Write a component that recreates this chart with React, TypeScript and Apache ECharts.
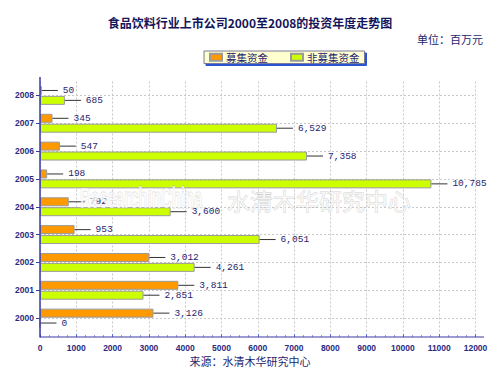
import React, { useEffect, useRef } from "react";
import * as echarts from "echarts";

const years = ["2000", "2001", "2002", "2003", "2004", "2005", "2006", "2007", "2008"];
const raisedFunds = [3126, 3811, 3012, 953, 792, 198, 547, 345, 50];
const nonRaisedFunds = [0, 2851, 4261, 6051, 3600, 10785, 7358, 6529, 685];
const seriesNames = ["募集资金", "非募集资金"];
const titleText = "食品饮料行业上市公司2000至2008的投资年度走势图";
const unitText = "单位：百万元";
const sourceText = "来源：水清木华研究中心";

const NAVY = "#1e1e70";
const CJK = '"Noto Sans CJK SC", sans-serif';

function fmt(v: number) {
  return v.toLocaleString("en-US");
}

export default function App() {
  const ref = useRef<HTMLDivElement>(null);
  useEffect(() => {
    if (!ref.current) return;
    const chart = echarts.init(ref.current, undefined, { renderer: "svg" });
    const labelCfg = {
      show: true,
      position: "right",
      distance: 0,
      formatter: (p: any) => `{l|}{v|${fmt(p.value)}}`,
      rich: {
        l: { width: 16, height: 1, backgroundColor: "#333" },
        v: {
          padding: [0, 0, 0, 5],
          fontFamily: '"Liberation Mono", monospace',
          fontSize: 9.5,
          color: NAVY,
        },
      },
    };
    const axisLabelStyle = {
      fontSize: 8.5,
      fontFamily: '"Liberation Sans", sans-serif',
      fontWeight: "bold",
      color: "#2a2a80",
    };
    chart.setOption({
      animation: false,
      backgroundColor: "#ffffff",
      title: {
        text: titleText,
        left: "center",
        top: 11,
        textStyle: { fontSize: 12, fontWeight: "bold", color: "#14145a", fontFamily: CJK },
      },
      legend: {
        data: seriesNames,
        left: 204,
        top: 51,
        orient: "horizontal",
        icon: "rect",
        itemWidth: 12,
        itemHeight: 7,
        itemGap: 22,
        padding: [1, 5, 1, 5],
        backgroundColor: "#ffffd0",
        borderColor: "#7a7a9a",
        borderWidth: 1,
        shadowColor: "#2a55d0",
        shadowOffsetX: 2,
        shadowOffsetY: 2,
        shadowBlur: 0,
        textStyle: { fontSize: 10.5, color: NAVY, fontFamily: CJK, padding: [0, 0, 0, -1] },
      },
      grid: { left: 40, width: 435.5, top: 81.5, height: 250.5, containLabel: false },
      xAxis: {
        type: "value",
        min: 0,
        max: 12000,
        interval: 1000,
        offset: 5,
        axisLine: { show: false },
        axisTick: { show: true, inside: true, length: 3, lineStyle: { color: "#5a6ad0" } },
        minorTick: { show: true, splitNumber: 4, length: 2, lineStyle: { color: "#8fa0e0" } },
        axisLabel: { ...axisLabelStyle, margin: 6, formatter: (v: number) => String(v) },
        splitLine: { show: true, lineStyle: { color: "#c8c8c8", type: [2, 2] } },
      },
      yAxis: {
        type: "category",
        data: years,
        axisLine: { show: false },
        axisTick: { show: true, alignWithLabel: true, length: 4, lineStyle: { color: "#3a3aa0" } },
        axisLabel: { ...axisLabelStyle, margin: 6 },
        splitLine: { show: true, alignWithLabel: true, lineStyle: { color: "#c8c8c8", type: [2, 2] } },
      },
      series: [
        {
          name: seriesNames[0],
          type: "bar",
          data: raisedFunds,
          barWidth: 9,
          barGap: "10%",
          itemStyle: { color: "#ff9900", borderColor: "#9a9a9a", borderWidth: 1 },
          label: labelCfg,
        },
        {
          name: seriesNames[1],
          type: "bar",
          data: nonRaisedFunds,
          barWidth: 9,
          barGap: "10%",
          itemStyle: { color: "#ccff00", borderColor: "#9a9a9a", borderWidth: 1 },
          label: labelCfg,
        },
      ],
      graphic: [
        {
          type: "line",
          shape: { x1: 40, y1: 77, x2: 40, y2: 337.5 },
          style: { stroke: "#3a3aa8", lineWidth: 1.5 },
          z: 10,
        },
        {
          type: "line",
          shape: { x1: 40, y1: 337, x2: 484, y2: 337 },
          style: { stroke: "#3a3aa8", lineWidth: 1.2 },
          z: 10,
        },
        {
          type: "text",
          right: 17,
          top: 33,
          style: { text: unitText, fontSize: 11, fill: NAVY, fontFamily: CJK },
        },
        {
          type: "text",
          left: "center",
          top: 355,
          style: { text: sourceText, fontSize: 11, fill: NAVY, fontFamily: CJK },
        },
        {
          type: "text",
          x: 80,
          y: 183,
          scaleX: 0.5,
          z: 20,
          style: {
            text: "ResearchInChina",
            fontSize: 30,
            fontWeight: "bold",
            fontFamily: '"Liberation Sans", sans-serif',
            fill: "rgba(250,250,250,0.8)",
            stroke: "rgba(170,170,170,0.55)",
            lineWidth: 0.8,
          },
        },
        {
          type: "text",
          x: 227,
          y: 188,
          z: 20,
          style: {
            text: "水清木华研究中心",
            fontSize: 23,
            fontFamily: CJK,
            fill: "rgba(250,250,250,0.8)",
            stroke: "rgba(170,170,170,0.55)",
            lineWidth: 0.8,
          },
        },
      ],
    });
    return () => chart.dispose();
  }, []);
  return <div ref={ref} style={{ width: 500, height: 383, position: "absolute", left: 0, top: 0 }} />;
}
